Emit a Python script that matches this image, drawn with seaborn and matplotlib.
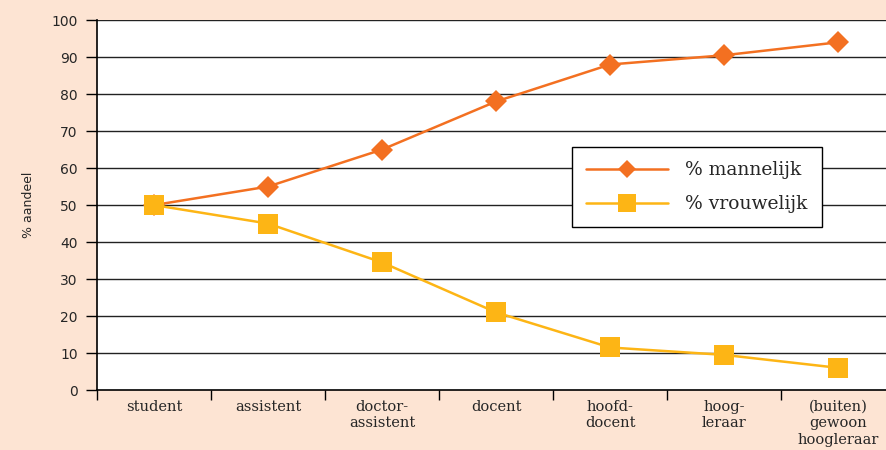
import matplotlib
matplotlib.use("Agg")
import matplotlib.pyplot as plt
import numpy as np
import pandas as pd
import seaborn as sns

categories = ["student", "assistent", "doctor-\nassistent", "docent",
              "hoofd-\ndocent", "hoog-\nleraar", "(buiten)\ngewoon\nhoogleraar"]
mannelijk = [50, 55, 65, 78, 88, 90.5, 94]
vrouwelijk = [50, 45, 34.5, 21, 11.5, 9.5, 6]
y_ticks = list(range(0, 101, 10))

BG = "#fde4d3"
ORANGE = "#f37021"
YELLOW = "#fdb515"

sns.set_theme(style="white")
plt.rcParams["font.family"] = ["DejaVu Sans"]

df = pd.DataFrame({"pos": np.arange(len(categories)),
                   "man": mannelijk, "vrouw": vrouwelijk})

fig = plt.figure(figsize=(8.86, 4.5), dpi=100, facecolor=BG)
# plot area runs a little past the right edge of the figure
ax = fig.add_axes([0.1095, 0.1333, 0.9007, 0.822])
ax.set_facecolor("white")

sns.lineplot(data=df, x="pos", y="man", ax=ax, color=ORANGE, lw=1.8,
             marker="D", markersize=11, markeredgewidth=0, label="% mannelijk")
sns.lineplot(data=df, x="pos", y="vrouw", ax=ax, color=YELLOW, lw=1.8,
             marker="s", markersize=15, markeredgewidth=0, label="% vrouwelijk")

ax.set_xlim(-0.5, len(categories) - 0.5)
ax.set_ylim(0, 100)
ax.set_yticks(y_ticks)
ax.tick_params(axis="y", which="major", length=8, width=1, color="black",
               labelsize=10, pad=6, left=True)
for y in y_ticks[1:]:
    ax.axhline(y, color="#222222", lw=1, zorder=0.5)

# category boundaries get the ticks, labels sit in between
ax.set_xticks(np.arange(len(categories) + 1) - 0.5)
ax.set_xticklabels([])
ax.tick_params(axis="x", which="major", length=7, width=1, color="black", bottom=True)
ax.set_xticks(np.arange(len(categories)), minor=True)
ax.set_xticklabels(categories, minor=True, fontfamily="DejaVu Serif",
                   fontsize=10.5, linespacing=1.25)
ax.tick_params(axis="x", which="minor", length=0, pad=7)

for s in ["top", "right"]:
    ax.spines[s].set_visible(False)
for s in ["left", "bottom"]:
    ax.spines[s].set_color("black")
    ax.spines[s].set_linewidth(1.2)

ax.set_xlabel("")
ax.set_ylabel("% aandeel", fontsize=9, labelpad=12)

leg = ax.legend(loc="upper left", bbox_to_anchor=(0.595, 0.656),
                frameon=True, fancybox=False, framealpha=1, edgecolor="black",
                prop={"family": "DejaVu Serif", "size": 13.5},
                handlelength=4.4, borderpad=0.75, labelspacing=0.85,
                handletextpad=0.9, borderaxespad=0, markerscale=0.85)
leg.get_frame().set_linewidth(1)

fig.savefig("out.png", dpi=100, facecolor=BG)
